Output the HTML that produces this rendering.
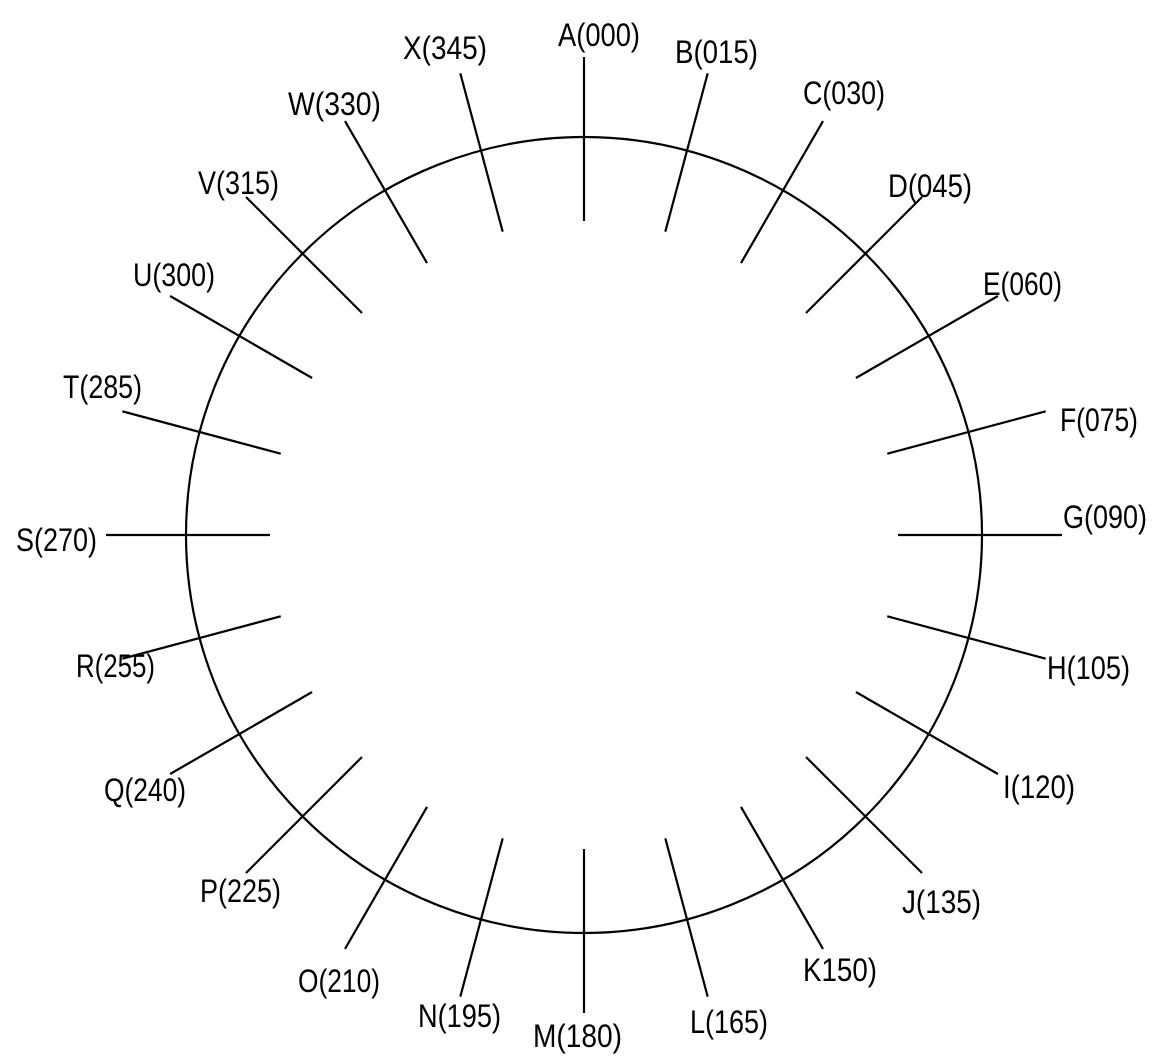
<!DOCTYPE html>
<html><head><meta charset="utf-8"><style>
html,body{margin:0;padding:0;background:#fff;}
svg{display:block}
text{font-family:"Liberation Sans Narrow","Liberation Sans",sans-serif;font-size:32px;fill:#000}
</style></head><body>
<svg width="1157" height="1064" viewBox="0 0 1157 1064" xmlns="http://www.w3.org/2000/svg">
<circle cx="584" cy="535" r="398" fill="none" stroke="#000" stroke-width="2.2"/>
<g stroke="#000" stroke-width="2.2">
<line x1="584" y1="221" x2="584" y2="57"/>
<line x1="665.3" y1="231.7" x2="707.7" y2="73.3"/>
<line x1="741" y1="263.1" x2="823" y2="121.1"/>
<line x1="806" y1="313" x2="922" y2="197"/>
<line x1="855.9" y1="378" x2="997.9" y2="296"/>
<line x1="887.3" y1="453.7" x2="1045.7" y2="411.3"/>
<line x1="898" y1="535" x2="1062" y2="535"/>
<line x1="887.3" y1="616.3" x2="1045.7" y2="658.7"/>
<line x1="855.9" y1="692" x2="997.9" y2="774"/>
<line x1="806" y1="757" x2="922" y2="873"/>
<line x1="741" y1="806.9" x2="823" y2="948.9"/>
<line x1="665.3" y1="838.3" x2="707.7" y2="996.7"/>
<line x1="584" y1="849" x2="584" y2="1013"/>
<line x1="502.7" y1="838.3" x2="460.3" y2="996.7"/>
<line x1="427" y1="806.9" x2="345" y2="948.9"/>
<line x1="362" y1="757" x2="246" y2="873"/>
<line x1="312.1" y1="692" x2="170.1" y2="774"/>
<line x1="280.7" y1="616.3" x2="122.3" y2="658.7"/>
<line x1="270" y1="535" x2="106" y2="535"/>
<line x1="280.7" y1="453.7" x2="122.3" y2="411.3"/>
<line x1="312.1" y1="378" x2="170.1" y2="296"/>
<line x1="362" y1="313" x2="246" y2="197"/>
<line x1="427" y1="263.1" x2="345" y2="121.1"/>
<line x1="502.7" y1="231.7" x2="460.3" y2="73.3"/>
</g>
<g>
<text x="558" y="46" textLength="82" lengthAdjust="spacingAndGlyphs">A(000)</text>
<text x="675" y="63" textLength="83" lengthAdjust="spacingAndGlyphs">B(015)</text>
<text x="803" y="104" textLength="82" lengthAdjust="spacingAndGlyphs">C(030)</text>
<text x="888" y="197" textLength="84" lengthAdjust="spacingAndGlyphs">D(045)</text>
<text x="983" y="295" textLength="79" lengthAdjust="spacingAndGlyphs">E(060)</text>
<text x="1060" y="431" textLength="78" lengthAdjust="spacingAndGlyphs">F(075)</text>
<text x="1063" y="528" textLength="84" lengthAdjust="spacingAndGlyphs">G(090)</text>
<text x="1047" y="679" textLength="83" lengthAdjust="spacingAndGlyphs">H(105)</text>
<text x="1003" y="798" textLength="72" lengthAdjust="spacingAndGlyphs">I(120)</text>
<text x="902" y="913" textLength="79" lengthAdjust="spacingAndGlyphs">J(135)</text>
<text x="803" y="981" textLength="74" lengthAdjust="spacingAndGlyphs">K150)</text>
<text x="690" y="1033" textLength="78" lengthAdjust="spacingAndGlyphs">L(165)</text>
<text x="533" y="1047" textLength="89" lengthAdjust="spacingAndGlyphs">M(180)</text>
<text x="418" y="1027" textLength="83" lengthAdjust="spacingAndGlyphs">N(195)</text>
<text x="298" y="992" textLength="82" lengthAdjust="spacingAndGlyphs">O(210)</text>
<text x="200" y="902" textLength="81" lengthAdjust="spacingAndGlyphs">P(225)</text>
<text x="104" y="801" textLength="82" lengthAdjust="spacingAndGlyphs">Q(240)</text>
<text x="76" y="677" textLength="79" lengthAdjust="spacingAndGlyphs">R(255)</text>
<text x="16" y="551" textLength="81" lengthAdjust="spacingAndGlyphs">S(270)</text>
<text x="63" y="398" textLength="79" lengthAdjust="spacingAndGlyphs">T(285)</text>
<text x="133" y="286" textLength="82" lengthAdjust="spacingAndGlyphs">U(300)</text>
<text x="198" y="194" textLength="81" lengthAdjust="spacingAndGlyphs">V(315)</text>
<text x="288" y="115" textLength="93" lengthAdjust="spacingAndGlyphs">W(330)</text>
<text x="403" y="59" textLength="84" lengthAdjust="spacingAndGlyphs">X(345)</text>
</g>
</svg>
</body></html>
